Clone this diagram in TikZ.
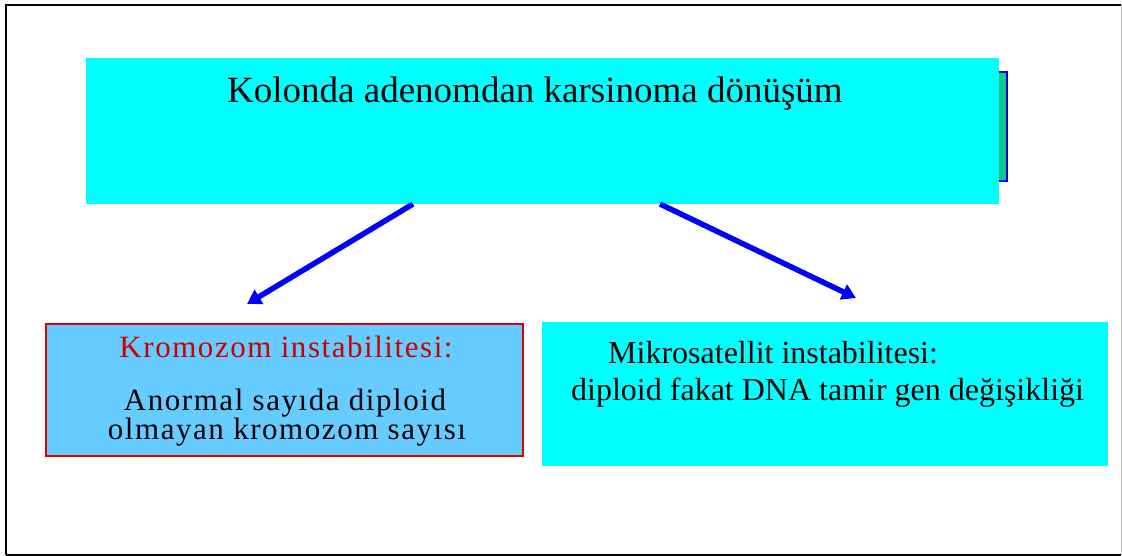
\documentclass[tikz,border=0pt]{standalone}
\usepackage{fontspec}
\setmainfont{Liberation Serif}
\usetikzlibrary{arrows.meta}
\definecolor{boxcyan}{RGB}{0,255,255}
\definecolor{boxblue}{RGB}{102,204,255}
\definecolor{boxred}{RGB}{221,0,0}
\definecolor{txtred}{RGB}{204,0,0}
\definecolor{shadowgreen}{RGB}{20,200,140}
\definecolor{arrblue}{RGB}{0,0,255}
\tikzset{
  plainbox/.style={rectangle, inner sep=0pt, outer sep=0pt},
  arr/.style={draw=arrblue, line width=5.5pt, -{Triangle[length=14pt,width=16pt]}},
  txt/.style={inner sep=0pt, anchor=base west, text=black},
  ctxt/.style={inner sep=0pt, anchor=base, text=black},
  lfont/.style={font=\fontsize{31}{37}\selectfont\addfontfeature{LetterSpace=5}},
}
\begin{document}
\begin{tikzpicture}[x=1pt,y=-1pt]
\useasboundingbox (0,0) rectangle (1122,556);
% frame
\draw[black, line width=2pt] (6,555) -- (6,5) -- (1121,5);
\draw[black, line width=2pt] (6,555) -- (1121,555);
\draw[gray!50, line width=1pt] (1121,5) -- (1121,555);
% shadow box behind title
\node[plainbox, fill=shadowgreen, draw=arrblue, line width=2pt, minimum width=907pt, minimum height=109pt] (shadow) at (553.5,126.5) {};
% title box
\node[plainbox, fill=boxcyan, minimum width=913pt, minimum height=146pt] (title) at (542.5,131) {};
\node[txt, font=\fontsize{37}{44}\selectfont] (ttext) at (227,103) {Kolonda adenomdan karsinoma dönüşüm};
% left box
\node[plainbox, fill=boxblue, draw=boxred, line width=2pt, minimum width=477pt, minimum height=132pt] (left) at (284.5,390) {};
\node[ctxt, lfont, text=txtred] (l1) at (286,357) {Kromozom instabilitesi:};
\node[ctxt, lfont] (l2) at (285,410) {Anormal sayıda diploid};
\node[ctxt, lfont] (l3) at (287,439) {olmayan kromozom sayısı};
% right box
\node[plainbox, fill=boxcyan, minimum width=566pt, minimum height=144pt] (right) at (825,394) {};
\node[txt, font=\fontsize{32}{38}\selectfont] (r1) at (608,363) {Mikrosatellit instabilitesi:};
\node[txt, font=\fontsize{32}{38}\selectfont] (r2) at (571,400) {diploid fakat DNA tamir gen değişikliği};
% arrows
\coordinate (ls) at (413,204);
\coordinate (le) at (247,304);
\coordinate (rs) at (660,204);
\coordinate (re) at (856,298);
\draw[arr] (ls) -- (le);
\draw[arr] (rs) -- (re);
\end{tikzpicture}
\end{document}
